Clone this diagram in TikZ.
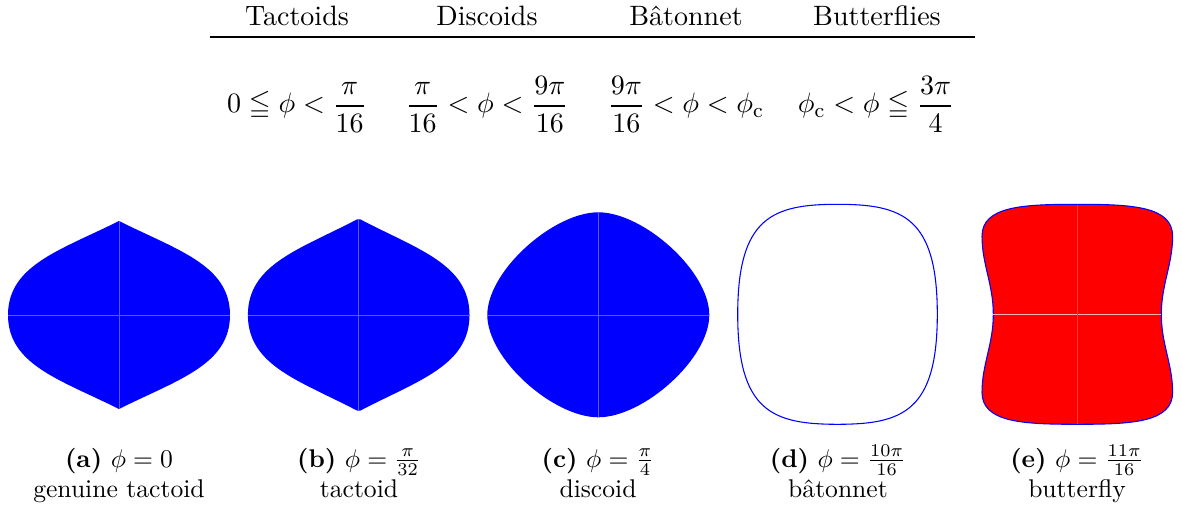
\documentclass[tikz,border=0pt]{standalone}
\usepackage{fontspec}
\usepackage{amssymb}
\begin{document}
\begin{tikzpicture}[x=0.390625pt,y=-0.390625pt,
  hdr/.style={anchor=base,inner sep=0pt,font=\fontsize{10.95}{13.6}\selectfont},
  subcap/.style={anchor=base,inner sep=0pt,font=\fontsize{10}{12}\selectfont},
  seam/.style={line width=0.25pt},
  bluefill/.style={fill=blue},
  outline/.style={draw=blue,line width=0.42pt}]
\useasboundingbox (0,0) rectangle (1182,512);

% table
\node[hdr] (h1) at (297,26) {Tactoids};
\node[hdr] (h2) at (487,26) {Discoids};
\node[hdr] (h3) at (686,26) {B\^atonnet};
\node[hdr] (h4) at (877,26) {Butterflies};
\coordinate (rl) at (210,37);
\coordinate (rr) at (975,37);
\draw[line width=0.5pt] (rl) -- (rr);
\node[hdr] (m1) at (297,113) {$\displaystyle 0\leqq\phi<\frac{\pi}{16}$};
\node[hdr] (m2) at (487,113) {$\displaystyle \frac{\pi}{16}<\phi<\frac{9\pi}{16}$};
\node[hdr] (m3) at (686,113) {$\displaystyle \frac{9\pi}{16}<\phi<\phi_{\mathrm{c}}$};
\node[hdr] (m4) at (876,113) {$\displaystyle \phi_{\mathrm{c}}<\phi\leqq\frac{3\pi}{4}$};

% (a) genuine tactoid
\begin{scope}[shift={(119,315)}]
\fill[bluefill] (0,-94) .. controls (58,-65) and (111,-50) .. (111,0)
  .. controls (111,50) and (58,65) .. (0,94)
  .. controls (-58,65) and (-111,50) .. (-111,0)
  .. controls (-111,-50) and (-58,-65) .. (0,-94) -- cycle;
\draw[seam,blue!65!white] (-111,0) -- (111,0) (0,-94) -- (0,94);
\end{scope}

% (b) tactoid
\begin{scope}[shift={(358.7,315)}]
\fill[bluefill] (-1.5,-95.7) -- (1.5,-95.7) .. controls (58,-66) and (110.8,-51) .. (110.8,0)
  .. controls (110.8,51) and (58,66) .. (1.5,95.7) -- (-1.5,95.7)
  .. controls (-58,66) and (-110.8,51) .. (-110.8,0)
  .. controls (-110.8,-51) and (-58,-66) .. (-1.5,-95.7) -- cycle;
\draw[seam,blue!65!white] (-110.8,0) -- (110.8,0) (0,-95.7) -- (0,95.7);
\end{scope}

% (c) discoid
\begin{scope}[shift={(598.3,315)}]
\fill[bluefill] (0,-102.7) .. controls (45,-102.7) and (111,-44) .. (111,0)
  .. controls (111,44) and (45,102.3) .. (0,102.3)
  .. controls (-45,102.3) and (-111,44) .. (-111,0)
  .. controls (-111,-44) and (-45,-102.7) .. (0,-102.7) -- cycle;
\draw[seam,blue!65!white] (-111,0) -- (111,0) (0,-102.7) -- (0,102.3);
\end{scope}

% (d) batonnet
\begin{scope}[shift={(837.5,314.3)}]
\draw[outline] (0,-110) .. controls (65,-110) and (99.8,-97) .. (99.8,0)
  .. controls (99.8,97) and (65,110) .. (0,110)
  .. controls (-65,110) and (-99.8,97) .. (-99.8,0)
  .. controls (-99.8,-97) and (-65,-110) .. (0,-110) -- cycle;
\end{scope}

% (e) butterfly
\begin{scope}[shift={(1077.3,314.3)}]
\filldraw[fill=red,outline] (0,-110) .. controls (55,-110) and (95.3,-108) .. (95.3,-78)
  .. controls (95.3,-50) and (84,-30) .. (84,0)
  .. controls (84,30) and (95.3,50) .. (95.3,78)
  .. controls (95.3,108) and (55,110) .. (0,110)
  .. controls (-55,110) and (-95.3,108) .. (-95.3,78)
  .. controls (-95.3,50) and (-84,30) .. (-84,0)
  .. controls (-84,-30) and (-95.3,-50) .. (-95.3,-78)
  .. controls (-95.3,-108) and (-55,-110) .. (0,-110) -- cycle;
\draw[seam,red!30!white] (-84,0) -- (84,0);
\draw[seam,red!75!white] (0,-109.5) -- (0,109.5);
\end{scope}

% captions
\node[subcap] (ca1) at (119,467) {\textbf{(a)} $\phi=0$};
\node[subcap] (ca2) at (119,497) {genuine tactoid};
\node[subcap] (cb1) at (359,467) {\textbf{(b)} $\phi=\frac{\pi}{32}$};
\node[subcap] (cb2) at (359,497) {tactoid};
\node[subcap] (cc1) at (598,467) {\textbf{(c)} $\phi=\frac{\pi}{4}$};
\node[subcap] (cc2) at (598,497) {discoid};
\node[subcap] (cd1) at (838,467) {\textbf{(d)} $\phi=\frac{10\pi}{16}$};
\node[subcap] (cd2) at (838,497) {b\^atonnet};
\node[subcap] (ce1) at (1077,467) {\textbf{(e)} $\phi=\frac{11\pi}{16}$};
\node[subcap] (ce2) at (1077,497) {butterfly};
\end{tikzpicture}
\end{document}
